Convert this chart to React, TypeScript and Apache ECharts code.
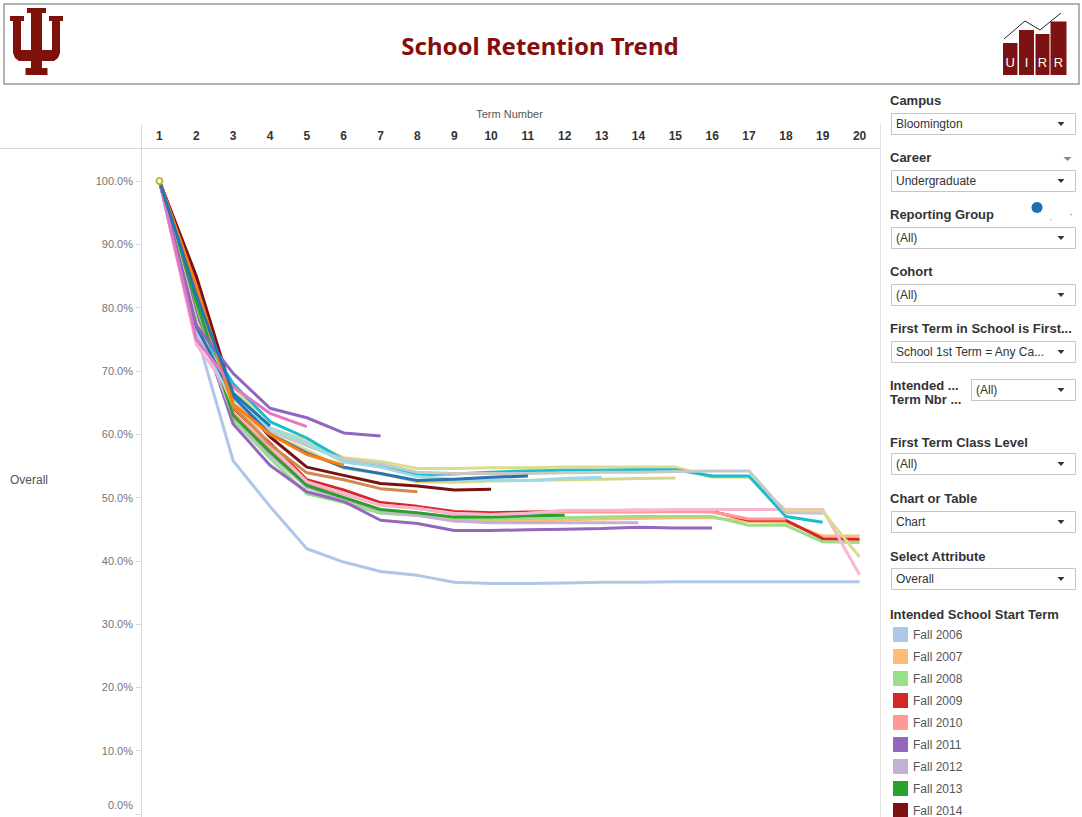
import React, { useEffect, useRef } from "react";
import * as echarts from "echarts";

// ---------- data ----------
const terms = ["1","2","3","4","5","6","7","8","9","10","11","12","13","14","15","16","17","18","19","20"];

const fall2006 = [100, 76, 55.8, 48.6, 41.9, 39.8, 38.3, 37.7, 36.6, 36.4, 36.4, 36.5, 36.6, 36.6, 36.7, 36.7, 36.7, 36.7, 36.7, 36.7];
const fall2007 = [100, 82, 63.5, 57.5, 51.6, 49.8, 47.6, 47.2, 46.3, 46.2, 46.3, 46.5, 46.6, 46.7, 46.8, 46.8, 46.2, 46.1, 43.9, 43.9];
const fall2008 = [100, 80, 62.3, 56.2, 50.6, 49.2, 47.5, 47.2, 46.7, 46.6, 46.7, 46.8, 46.9, 47.0, 47.0, 47.0, 45.6, 45.6, 43.0, 42.9];
const fall2009 = [100, 84.5, 64.2, 58.6, 52.8, 51.2, 49.2, 48.6, 47.8, 47.6, 47.7, 47.8, 47.9, 48.0, 47.9, 47.8, 46.4, 46.4, 43.5, 43.4];
const fall2010 = [100, 82.5, 63.2, 57.8, 52.2, 50.6, 48.8, 48.3, 47.4, 47.3, 47.5, 47.7, 47.7, 47.7, 47.8, 47.7, 46.6, 46.6];
const fall2011 = [100, 79, 61.6, 55.1, 50.9, 49.4, 46.4, 45.9, 44.8, 44.8, 44.9, 45.0, 45.1, 45.3, 45.2, 45.2];
const fall2012 = [100, 78, 62.8, 56.8, 51.6, 49.8, 47.9, 47.2, 46.3, 46.0, 46.0, 46.0, 46.0, 46.0];
const fall2013 = [100, 81, 63.0, 57.2, 51.9, 50.0, 48.1, 47.6, 46.9, 46.9, 47.1, 47.2];
const fall2014 = [100, 85, 66.0, 59.6, 54.8, 53.5, 52.2, 51.8, 51.2, 51.3];
const fall2015 = [100, 83, 64.4, 58.4, 53.9, 52.8, 51.4, 50.9];
const fall2016 = [100, 83.5, 64.8, 60.0, 56.8, 55.1];
const fall2017 = [100, 82, 66.5, 61.3];
const fall2019 = [100];
const spring2007 = [100, 74.2, 66.0, 58.2, 52.5, 50.7, 48.8, 48.3, 47.5, 47.3, 47.5, 48.0, 48.0, 48.0, 48.1, 48.1, 48.1, 48.1, 48.1, 37.8];
const spring2008 = [100, 77, 67.5, 61.0, 59.0, 56.3, 55.7, 54.6, 54.6, 54.7, 54.7, 54.8, 54.8, 54.8, 54.8, 53.2, 53.2, 48.0, 47.8, 40.6];
const spring2009 = [100, 77.5, 68.0, 62.0, 59.4, 55.9, 55.0, 53.6, 53.7, 54.0, 54.2, 54.3, 54.3, 54.4, 54.4, 53.4, 53.4, 47.0, 46.1];
const spring2010 = [100, 76.5, 66.0, 60.5, 58.2, 56.0, 55.3, 54.0, 53.8, 53.8, 53.8, 53.9, 54.0, 54.0, 54.1, 54.2, 54.2, 47.6, 47.5];
const spring2011 = [100, 78, 64.5, 60.0, 57.5, 54.6, 53.8, 52.5, 52.4, 52.6, 52.7, 52.8, 52.9, 53.0, 53.1];
const spring2012 = [100, 76, 65.5, 61.0, 58.6, 55.6, 54.8, 53.3, 52.9, 52.8, 52.7, 53.0, 53.2];
const spring2014 = [100, 77, 66, 60, 57, 54.8, 53.8, 52.7, 52.9, 53.2, 53.4];
const spring2016 = [100, 77.2, 69.6, 64.1, 62.6, 60.2, 59.7];
const spring2017 = [100, 75, 67.5, 63.3, 61.2];

const seriesNames = [
  "Fall 2006", "Fall 2007", "Fall 2008", "Fall 2009", "Fall 2010", "Fall 2011", "Fall 2012", "Fall 2013", "Fall 2014",
  "Spring 2007", "Spring 2008", "Spring 2009", "Spring 2010", "Spring 2011", "Spring 2012", "Spring 2014",
  "Fall 2015", "Fall 2016", "Spring 2016", "Spring 2017", "Fall 2017", "Fall 2019",
];
const seriesValues = [
  fall2006, fall2007, fall2008, fall2009, fall2010, fall2011, fall2012, fall2013, fall2014,
  spring2007, spring2008, spring2009, spring2010, spring2011, spring2012, spring2014,
  fall2015, fall2016, spring2016, spring2017, fall2017, fall2019,
];
const seriesColors = [
  "#aec7e8", "#ffbb78", "#98df8a", "#d62728", "#ff9896", "#9467bd", "#c5b0d5", "#2ca02c", "#7b1113",
  "#f7b6d2", "#dbdb8d", "#17becf", "#c7c7c7", "#d6d68a", "#9edae5", "#2a72b0",
  "#d2894b", "#ff7f0e", "#9166bf", "#e377c2", "#1f77b4", "#bcbd22",
];
const legendShown = ["Fall 2006", "Fall 2007", "Fall 2008", "Fall 2009", "Fall 2010", "Fall 2011", "Fall 2012", "Fall 2013", "Fall 2014"];

const filterTitles = ["Campus", "Career", "Reporting Group", "Cohort", "First Term in School is First...", "First Term Class Level", "Chart or Table", "Select Attribute"];
const filterValues = ["Bloomington", "Undergraduate", "(All)", "(All)", "School 1st Term = Any Ca...", "(All)", "Chart", "Overall"];

// ---------- layout ----------
const FONT = '"Liberation Sans", Arial, Helvetica, sans-serif';
const TITLE_Y = [100, 157.5, 214.5, 271.5, 328.5, 442.5, 498.5, 556];
const BOX_TOP = [113, 170, 227, 284, 341, 453, 511, 568];

function buildGraphics(): any[] {
  const g: any[] = [];
  // header
  g.push({ type: "rect", shape: { x: 4, y: 4, width: 1075, height: 80 }, style: { fill: "#fff", stroke: "#9a9a9a", lineWidth: 1.5 } });
  g.push({
    type: "text", x: 540, y: 45,
    style: { text: "School Retention Trend", fill: "#870d0d", fontSize: 24, fontWeight: "bold", fontFamily: '"Noto Sans", "Open Sans", sans-serif', align: "center", verticalAlign: "middle" },
  });
  // IU trident
  g.push({
    type: "polygon",
    shape: {
      points: [
        [27, 8], [46, 8], [46, 13], [42, 13], [42, 50], [52, 50], [52, 21], [49, 21], [49, 16], [63, 16], [63, 21], [60, 21],
        [60, 53], [58, 58], [54, 61], [42, 61], [42, 68], [47.5, 68], [47.5, 75], [25.5, 75], [25.5, 68], [31, 68], [31, 61],
        [19, 61], [15, 58], [13, 53], [13, 21], [10, 21], [10, 16], [24, 16], [24, 21], [21, 21], [21, 50], [31, 50], [31, 13], [27, 13],
      ],
    },
    style: { fill: "#7d110c" },
  });
  // UIRR logo
  const bars = [[1003, 43, 14.5, 32], [1019, 30, 15, 45], [1035.5, 34, 14, 41], [1050.5, 21.5, 16, 53.5]];
  bars.forEach((b) => g.push({ type: "rect", shape: { x: b[0], y: b[1], width: b[2], height: b[3] }, style: { fill: "#7d1212" } }));
  const letters = ["U", "I", "R", "R"];
  letters.forEach((l, i) => g.push({
    type: "text", x: bars[i][0] + bars[i][2] / 2, y: 62,
    style: { text: l, fill: "#fff", fontSize: 13, fontFamily: FONT, align: "center", verticalAlign: "middle" },
  }));
  g.push({ type: "polyline", shape: { points: [[1004, 39], [1025, 21], [1040, 30], [1061, 13]] }, style: { stroke: "#222", lineWidth: 1, fill: null } });

  // chart frame lines
  g.push({ type: "line", shape: { x1: 0, y1: 148.5, x2: 880, y2: 148.5 }, style: { stroke: "#d9d9d9", lineWidth: 1 } });
  g.push({ type: "line", shape: { x1: 141.5, y1: 125, x2: 141.5, y2: 817 }, style: { stroke: "#d9d9d9", lineWidth: 1 } });
  g.push({ type: "line", shape: { x1: 880.5, y1: 123, x2: 880.5, y2: 817 }, style: { stroke: "#e3e3e3", lineWidth: 1 } });
  g.push({ type: "text", x: 10, y: 480, style: { text: "Overall", fill: "#555", fontSize: 12, fontFamily: FONT, align: "left", verticalAlign: "middle" } });

  // filter panel
  const titleStyle = { fill: "#333", fontSize: 13, fontWeight: "bold", fontFamily: FONT, align: "left", verticalAlign: "middle" };
  const valueStyle = { fill: "#333", fontSize: 12, fontFamily: FONT, align: "left", verticalAlign: "middle" };
  const dropdown = (x: number, top: number, w: number, text: string) => {
    g.push({ type: "rect", shape: { x: x + 0.5, y: top + 0.5, width: w, height: 21 }, style: { fill: "#fff", stroke: "#c6c6c6", lineWidth: 1 } });
    g.push({ type: "text", x: x + 5, y: top + 11, style: { ...valueStyle, text } });
    g.push({ type: "polygon", shape: { points: [[1057.5, top + 9], [1064.5, top + 9], [1061, top + 13]] }, style: { fill: "#333" } });
  };
  filterTitles.forEach((t, i) => {
    g.push({ type: "text", x: 890, y: TITLE_Y[i], style: { ...titleStyle, text: t } });
    dropdown(891, BOX_TOP[i], 184, filterValues[i]);
  });
  g.push({ type: "text", x: 890, y: 385, style: { ...titleStyle, text: "Intended ..." } });
  g.push({ type: "text", x: 890, y: 399.5, style: { ...titleStyle, text: "Term Nbr ..." } });
  dropdown(971, 379, 104, "(All)");
  g.push({ type: "polygon", shape: { points: [[1063.5, 157], [1071.5, 157], [1067.5, 161]] }, style: { fill: "#888" } });
  g.push({ type: "circle", shape: { cx: 1037, cy: 207.5, r: 5.5 }, style: { fill: "#1f6db3" } });
  g.push({ type: "circle", shape: { cx: 1050.5, cy: 219.5, r: 1 }, style: { fill: "#d0d0d0" } });
  g.push({ type: "circle", shape: { cx: 1071, cy: 214.5, r: 0.8 }, style: { fill: "#aaa" } });
  g.push({ type: "text", x: 890, y: 614, style: { ...titleStyle, text: "Intended School Start Term" } });
  return g;
}

export default function App() {
  const ref = useRef<HTMLDivElement>(null);
  useEffect(() => {
    if (!ref.current) return;
    const chart = echarts.init(ref.current, undefined, { renderer: "svg" });
    const series = seriesNames.map((name, i) => {
      const single = seriesValues[i].length === 1;
      return {
        type: "line",
        name,
        data: seriesValues[i],
        symbol: single ? "emptyCircle" : "none",
        showSymbol: single,
        symbolSize: 6,
        clip: false,
        silent: true,
        lineStyle: { width: 3, color: seriesColors[i] },
        itemStyle: { color: seriesColors[i], borderWidth: single ? 1.5 : 0 },
        emphasis: { disabled: true },
      };
    });
    const option: any = {
      animation: false,
      backgroundColor: "#fff",
      textStyle: { fontFamily: FONT },
      grid: { left: 141, right: 204, top: 181, bottom: 3, containLabel: false },
      xAxis: {
        type: "category",
        data: terms,
        position: "top",
        offset: 33,
        boundaryGap: true,
        name: "Term Number",
        nameLocation: "middle",
        nameGap: 29,
        nameTextStyle: { fontSize: 11, color: "#555", fontFamily: FONT },
        axisLine: { show: false },
        axisTick: { show: false },
        splitLine: { show: false },
        axisLabel: { interval: 0, margin: 6, fontSize: 12, fontWeight: "bold", color: "#333", fontFamily: FONT },
      },
      yAxis: {
        type: "value",
        min: 0,
        max: 100,
        interval: 10,
        axisLine: { show: false },
        axisTick: { show: true, length: 5, lineStyle: { color: "#d9d9d9" } },
        splitLine: { show: false },
        axisLabel: {
          margin: 8,
          fontSize: 11,
          color: "#757575",
          fontFamily: FONT,
          formatter: (v: number) => (v === 0 ? "{z|0.0%}" : v.toFixed(1) + "%"),
          rich: { z: { fontSize: 11, color: "#757575", fontFamily: FONT, padding: [0, 0, 18, 0] } },
        },
      },
      legend: {
        data: legendShown,
        orient: "vertical",
        left: 893,
        top: 627,
        width: 180,
        height: 260,
        padding: 0,
        itemWidth: 15,
        itemHeight: 15,
        itemGap: 7,
        icon: "rect",
        selectedMode: false,
        itemStyle: { borderWidth: 0 },
        textStyle: { fontSize: 12, color: "#555", fontFamily: FONT },
      },
      series,
      graphic: { elements: buildGraphics() },
    };
    chart.setOption(option);
    return () => chart.dispose();
  }, []);
  return <div ref={ref} style={{ position: "absolute", left: 0, top: 0, width: 1082, height: 817 }} />;
}
